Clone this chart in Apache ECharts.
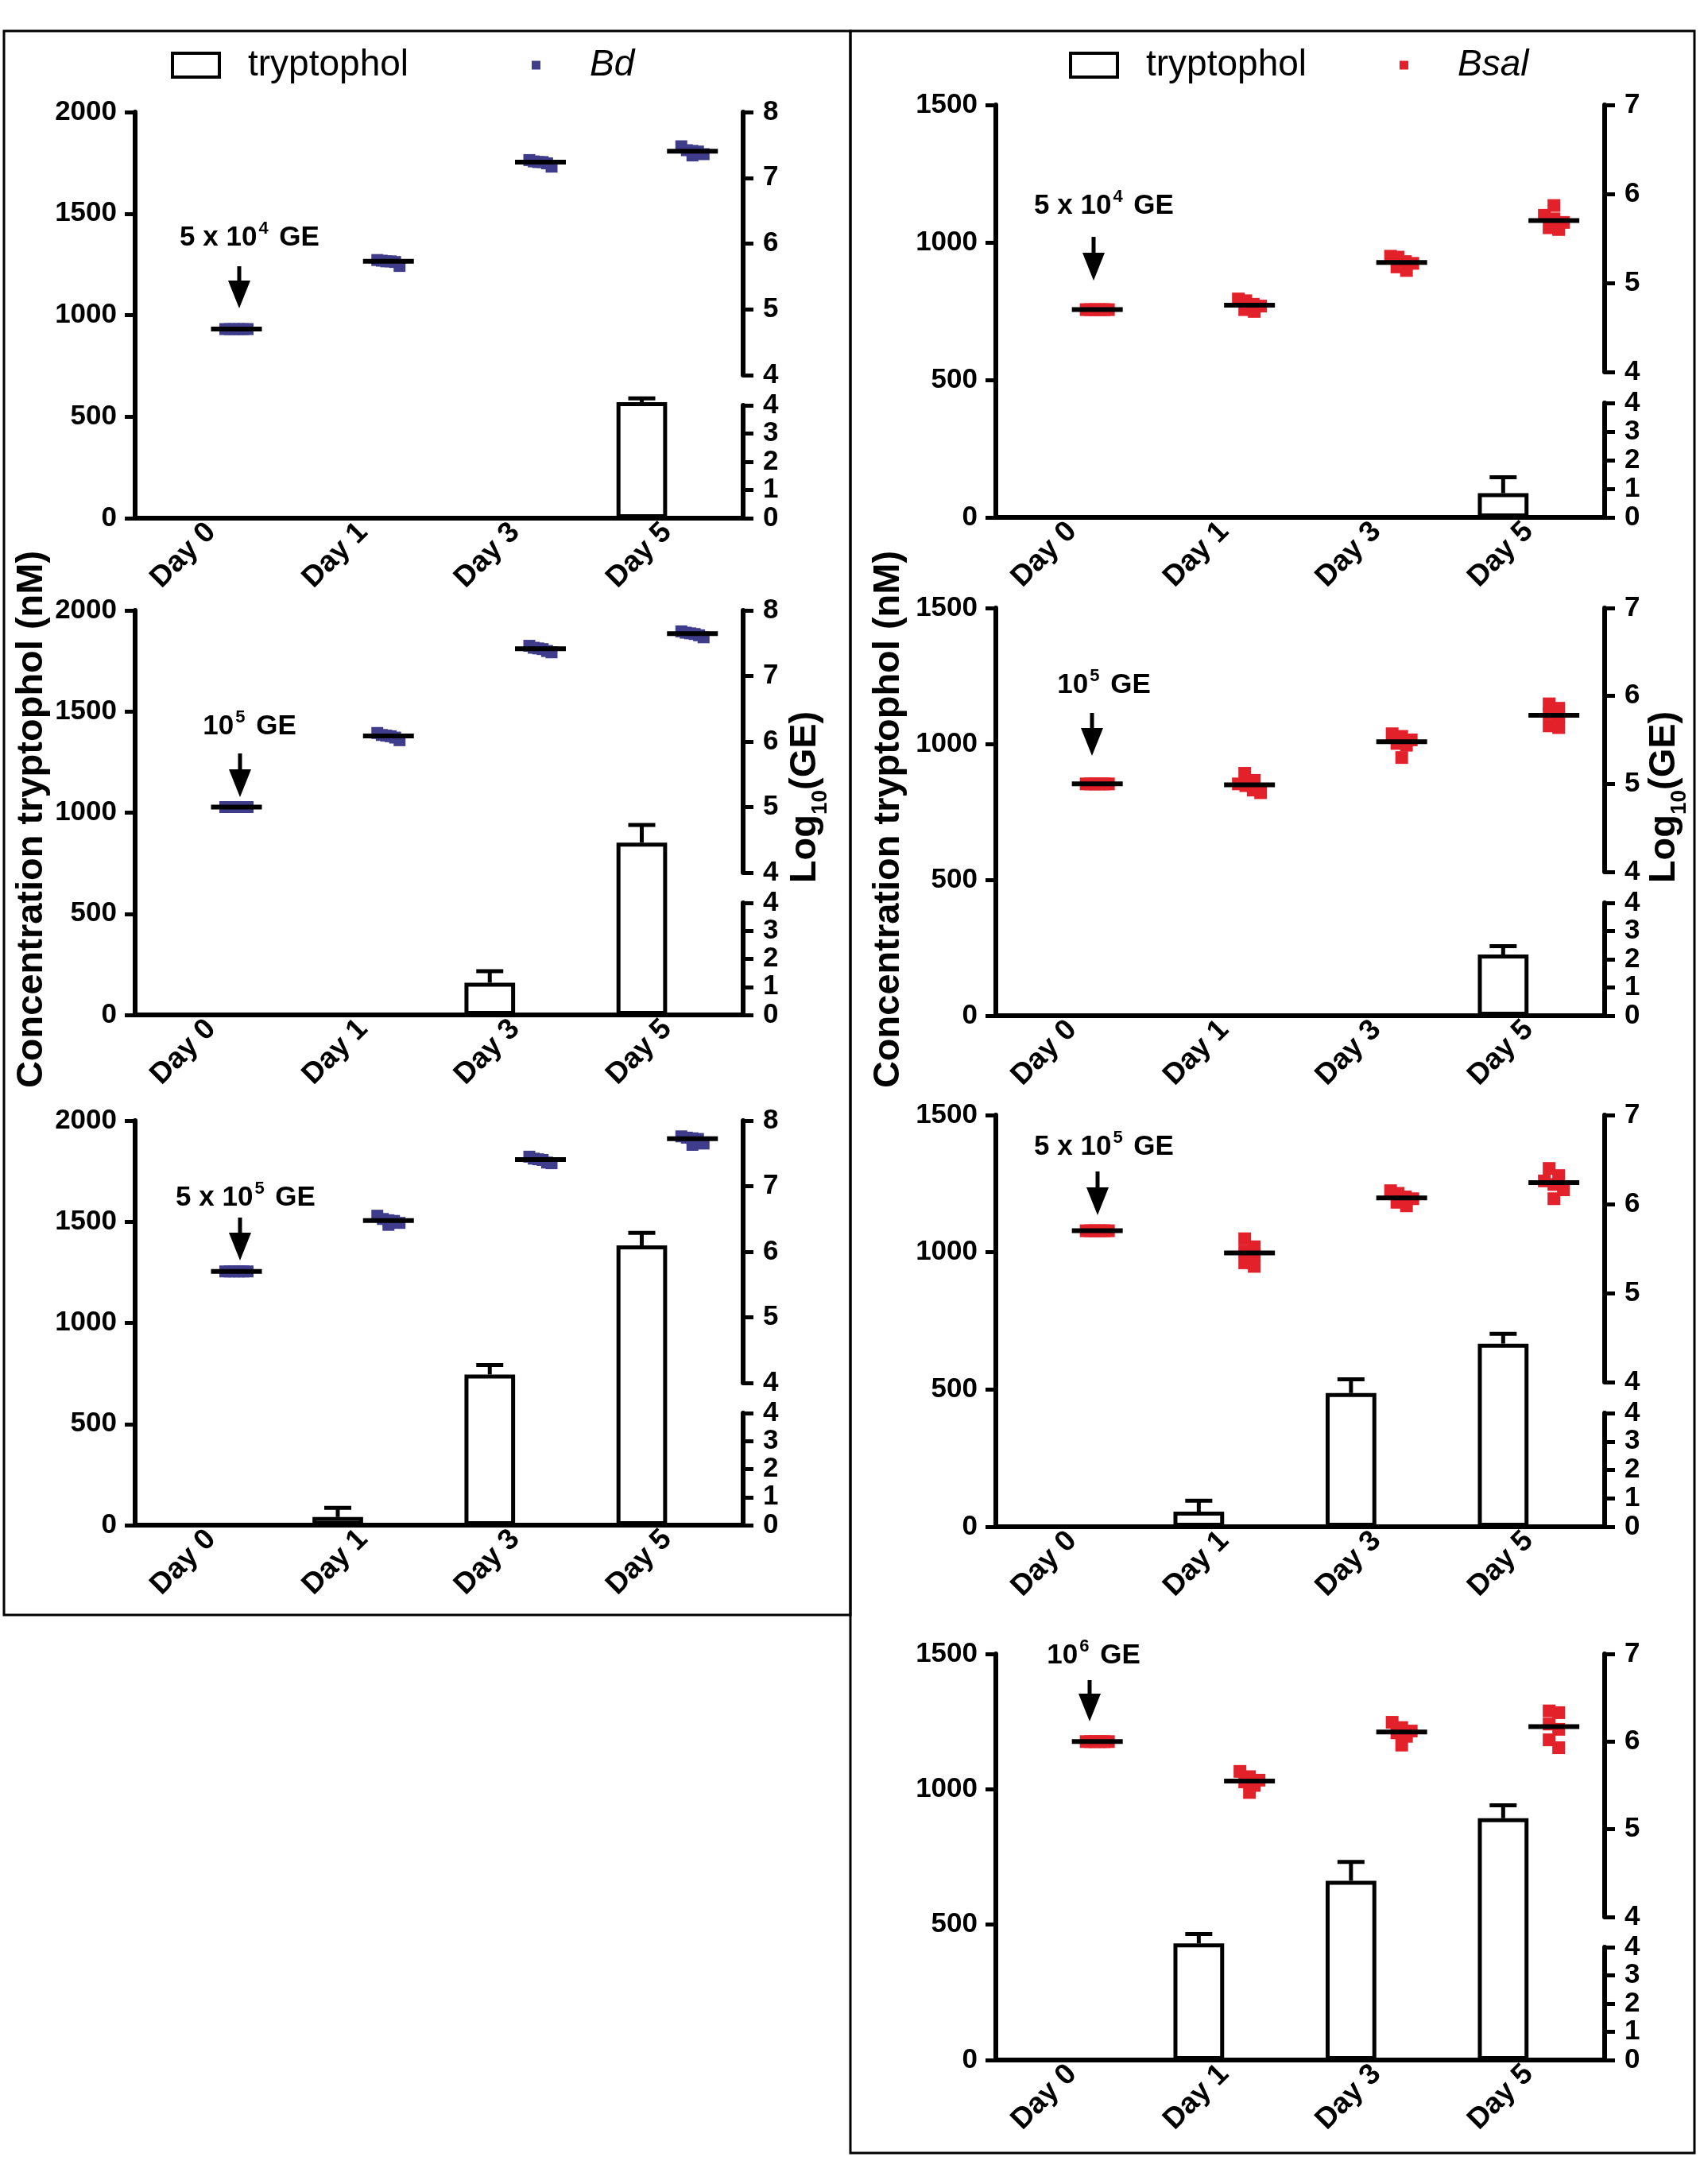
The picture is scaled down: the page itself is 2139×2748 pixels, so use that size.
<!DOCTYPE html>
<html>
<head>
<meta charset="utf-8">
<title>tryptophol - Bd / Bsal</title>
<script src="https://cdn.jsdelivr.net/npm/echarts@6.0.0/dist/echarts.min.js"></script>
<style>
html, body { margin: 0; padding: 0; background: #fff; }
#main { width: 2139px; height: 2748px; }
</style>
</head>
<body>
<div id="main"></div>
<script>

var days = ['Day 0', 'Day 1', 'Day 3', 'Day 5'];

// tryptophol (nM), mean and SD per day
var bd5e4Trp = [0, 0, 0, 571];
var bd5e4Sd = [0, 0, 0, 19];
var bd1e5Trp = [0, 0, 159, 852];
var bd1e5Sd = [0, 0, 57, 87];
var bd5e5Trp = [0, 40, 745, 1383];
var bd5e5Sd = [0, 45, 47, 62];
var bsal5e4Trp = [0, 0, 0, 88];
var bsal5e4Sd = [0, 0, 0, 58];
var bsal1e5Trp = [0, 0, 0, 225];
var bsal1e5Sd = [0, 0, 0, 31];
var bsal5e5Trp = [0, 55, 487, 667];
var bsal5e5Sd = [0, 40, 50, 36];
var bsal1e6Trp = [0, 431, 662, 893];
var bsal1e6Sd = [0, 34, 70, 48];

// log10(GE) per animal, one row per day
var bd5e4Ge = [
    [4.70, 4.70, 4.70, 4.70, 4.70, 4.70],
    [5.75, 5.74, 5.73, 5.73, 5.72, 5.66],
    [7.27, 7.25, 7.24, 7.24, 7.22, 7.17],
    [7.48, 7.42, 7.41, 7.40, 7.36, 7.34]
];
var bd1e5Ge = [
    [5.00, 5.00, 5.00, 5.00, 5.00, 5.00],
    [6.13, 6.10, 6.09, 6.08, 6.06, 6.02],
    [7.46, 7.43, 7.42, 7.41, 7.38, 7.36],
    [7.68, 7.66, 7.65, 7.64, 7.62, 7.59]
];
var bd5e5Ge = [
    [5.70, 5.70, 5.70, 5.70, 5.70, 5.70],
    [6.55, 6.50, 6.48, 6.47, 6.44, 6.41],
    [7.45, 7.42, 7.41, 7.40, 7.36, 7.35],
    [7.76, 7.74, 7.73, 7.72, 7.65, 7.63]
];
var bsal5e4Ge = [
    [4.70, 4.70, 4.70, 4.70, 4.70, 4.70],
    [4.82, 4.80, 4.76, 4.74, 4.70, 4.68],
    [5.30, 5.29, 5.24, 5.22, 5.18, 5.14],
    [5.87, 5.76, 5.72, 5.68, 5.62, 5.60]
];
var bsal1e5Ge = [
    [5.00, 5.00, 5.00, 5.00, 5.00, 5.00],
    [5.12, 5.04, 5.00, 4.98, 4.93, 4.90],
    [5.57, 5.54, 5.50, 5.46, 5.44, 5.30],
    [5.91, 5.86, 5.80, 5.76, 5.66, 5.64]
];
var bsal5e5Ge = [
    [5.70, 5.70, 5.70, 5.70, 5.70, 5.70],
    [5.61, 5.52, 5.47, 5.43, 5.34, 5.30],
    [6.15, 6.12, 6.08, 6.06, 6.02, 5.98],
    [6.40, 6.32, 6.26, 6.22, 6.16, 6.06]
];
var bsal1e6Ge = [
    [6.00, 6.00, 6.00, 6.00, 6.00, 6.00],
    [5.66, 5.60, 5.56, 5.54, 5.50, 5.42],
    [6.22, 6.16, 6.12, 6.10, 6.06, 5.96],
    [6.35, 6.33, 6.20, 6.14, 6.02, 5.93]
];

var font = "'Liberation Sans', Arial, sans-serif";
var bdColor = '#403c8c';
var bsalColor = '#e3212a';

var cols = [
    {left: 170, right: 935, kind: 'Bd', color: bdColor, dot: 15, trpMax: 2000, geMax: 8},
    {left: 1253, right: 2019, kind: 'Bsal', color: bsalColor, dot: 16, trpMax: 1500, geMax: 7}
];

var panels = [
    {col: 0, trp: bd5e4Trp, sd: bd5e4Sd, ge: bd5e4Ge, dose: '{a|5 x 10}{s|4}{a| GE}', top: 141, bottom: 652, text: [314, 297], arrow: [301, 335, 388]},
    {col: 0, trp: bd1e5Trp, sd: bd1e5Sd, ge: bd1e5Ge, dose: '{a|10}{s|5}{a| GE}', top: 768, bottom: 1277, text: [314, 912], arrow: [302, 948, 1003]},
    {col: 0, trp: bd5e5Trp, sd: bd5e5Sd, ge: bd5e5Ge, dose: '{a|5 x 10}{s|5}{a| GE}', top: 1410, bottom: 1919, text: [309, 1505], arrow: [302, 1532, 1586]},
    {col: 1, trp: bsal5e4Trp, sd: bsal5e4Sd, ge: bsal5e4Ge, dose: '{a|5 x 10}{s|4}{a| GE}', top: 132, bottom: 651, text: [1389, 257], arrow: [1376, 298, 353]},
    {col: 1, trp: bsal1e5Trp, sd: bsal1e5Sd, ge: bsal1e5Ge, dose: '{a|10}{s|5}{a| GE}', top: 765, bottom: 1278, text: [1389, 860], arrow: [1374, 897, 951]},
    {col: 1, trp: bsal5e5Trp, sd: bsal5e5Sd, ge: bsal5e5Ge, dose: '{a|5 x 10}{s|5}{a| GE}', top: 1403, bottom: 1921, text: [1389, 1441], arrow: [1381, 1474, 1529]},
    {col: 1, trp: bsal1e6Trp, sd: bsal1e6Sd, ge: bsal1e6Ge, dose: '{a|10}{s|6}{a| GE}', top: 2081, bottom: 2592, text: [1376, 2081], arrow: [1371, 2114, 2166]}
];

function median(vals) {
    var s = vals.slice().sort(function (a, b) { return a - b; });
    var m = Math.floor(s.length / 2);
    return s.length % 2 ? s[m] : (s[m - 1] + s[m]) / 2;
}

// spread points that sit at about the same height (like a dot plot)
function swarm(vals, pxPerUnit, size) {
    var order = vals.map(function (v, i) { return i; })
        .sort(function (a, b) { return vals[b] - vals[a]; });
    var rows = [];
    order.forEach(function (i) {
        var row = rows[rows.length - 1];
        if (row && (vals[row[0]] - vals[i]) * pxPerUnit < size * 0.7) row.push(i);
        else rows.push([i]);
    });
    var off = [];
    rows.forEach(function (row) {
        var step = row.length > 1 ? Math.min(size * 0.75, 28 / (row.length - 1)) : 0;
        row.forEach(function (i, k) { off[i] = (k - (row.length - 1) / 2) * step; });
    });
    return off;
}

function dotRenderer(ge, color, size) {
    return function (params, api) {
        var d = api.value(0), v = api.value(1), k = api.value(2);
        var band = api.size([1, 0])[0];
        var unit = api.size([0, 1])[1];
        var off = swarm(ge[d], unit, size);
        var p = api.coord([d, v]);
        var cx = p[0] + band / 6 + off[k];
        return {
            type: 'rect',
            shape: {x: cx - size / 2, y: p[1] - size / 2, width: size, height: size},
            style: {fill: color}
        };
    };
}

function medianRenderer(params, api) {
    var band = api.size([1, 0])[0];
    var p = api.coord([api.value(0), api.value(1)]);
    var cx = p[0] + band / 6;
    return {
        type: 'line',
        shape: {x1: cx - 32, y1: p[1], x2: cx + 32, y2: p[1]},
        style: {stroke: '#000', lineWidth: 6}
    };
}

function errRenderer(params, api) {
    var d = api.value(0), mean = api.value(1), sd = api.value(2);
    if (!sd) return;
    var band = api.size([1, 0])[0];
    var base = api.coord([d, mean]);
    var top = api.coord([d, mean + sd]);
    var x = base[0] - band / 6;
    var st = {stroke: '#000', lineWidth: 5};
    return {
        type: 'group',
        children: [
            {type: 'line', shape: {x1: x, y1: base[1], x2: x, y2: top[1]}, style: st},
            {type: 'line', shape: {x1: x - 17, y1: top[1], x2: x + 17, y2: top[1]}, style: st}
        ]
    };
}

var axisLine = {show: true, onZero: false, lineStyle: {color: '#000', width: 6}};
var axisTick = {show: true, length: 13, lineStyle: {color: '#000', width: 5}};
function label(margin) {
    return {
        color: '#000', fontSize: 35, fontWeight: 'bold', fontFamily: font, margin: margin,
        formatter: function (v) { return String(v); }
    };
}

var grids = [], xAxes = [], yAxes = [], series = [];
var graphics = [];

panels.forEach(function (p, i) {
    var c = cols[p.col];
    var h = p.bottom - p.top;
    var w = c.right - c.left;
    var upperH = Math.round(h * 0.648);
    var lowerH = Math.round(h * 0.277);
    var g = 3 * i;

    grids.push({left: c.left, top: p.top, width: w, height: h, outerBoundsMode: 'none'});
    grids.push({left: c.left, top: p.top, width: w, height: upperH, outerBoundsMode: 'none'});
    grids.push({left: c.left, top: p.bottom - lowerH, width: w, height: lowerH, outerBoundsMode: 'none'});

    xAxes.push({
        gridIndex: g, type: 'category', data: days,
        axisLine: axisLine,
        axisTick: {show: false},
        axisLabel: {color: '#000', fontSize: 37, fontWeight: 'bold', fontFamily: font, margin: 12, rotate: 45, interval: 0},
        splitLine: {show: false}
    });
    xAxes.push({gridIndex: g + 1, type: 'category', data: days, show: false});
    xAxes.push({gridIndex: g + 2, type: 'category', data: days, show: false});

    yAxes.push({
        gridIndex: g, type: 'value', min: 0, max: c.trpMax, interval: 500,
        axisLine: axisLine, axisTick: axisTick, axisLabel: label(23), splitLine: {show: false}
    });
    yAxes.push({
        gridIndex: g + 1, type: 'value', position: 'right', min: 4, max: c.geMax, interval: 1,
        axisLine: axisLine, axisTick: axisTick, axisLabel: label(25), splitLine: {show: false}
    });
    yAxes.push({
        gridIndex: g + 2, type: 'value', position: 'right', min: 0, max: 4, interval: 1,
        axisLine: axisLine, axisTick: axisTick, axisLabel: label(25), splitLine: {show: false}
    });

    series.push({
        type: 'bar', name: 'tryptophol', xAxisIndex: g, yAxisIndex: g,
        data: p.trp.map(function (v) { return v > 0 ? v : '-'; }),
        barWidth: '33.3%', barGap: '0%',
        itemStyle: {color: '#fff', borderColor: '#000', borderWidth: 5},
        silent: true
    });
    // empty slot so the bar sits on the left half of each day
    series.push({
        type: 'bar', name: 'slot', xAxisIndex: g, yAxisIndex: g,
        data: ['-', '-', '-', '-'], barWidth: '33.3%', barGap: '0%', silent: true
    });
    series.push({
        type: 'custom', name: 'tryptophol SD', xAxisIndex: g, yAxisIndex: g,
        data: p.trp.map(function (v, d) { return [d, v, p.sd[d]]; }),
        renderItem: errRenderer, z: 3, silent: true
    });

    var dots = [];
    p.ge.forEach(function (vals, d) {
        vals.forEach(function (v, k) { dots.push([d, v, k]); });
    });
    series.push({
        type: 'custom', name: c.kind, xAxisIndex: g + 1, yAxisIndex: g + 1,
        data: dots, renderItem: dotRenderer(p.ge, c.color, c.dot),
        itemStyle: {color: c.color}, z: 4, silent: true
    });
    series.push({
        type: 'custom', name: 'median', xAxisIndex: g + 1, yAxisIndex: g + 1,
        data: p.ge.map(function (vals, d) { return [d, median(vals)]; }),
        renderItem: medianRenderer, z: 5, silent: true
    });

    // inoculum label and arrow
    graphics.push({
        type: 'text', x: p.text[0], y: p.text[1], silent: true,
        style: {
            text: p.dose, align: 'center', verticalAlign: 'middle',
            rich: {
                a: {fontSize: 35, fontWeight: 'bold', fontFamily: font, fill: '#000', lineHeight: 40, verticalAlign: 'bottom'},
                s: {fontSize: 22, fontWeight: 'bold', fontFamily: font, fill: '#000', lineHeight: 22, verticalAlign: 'top', padding: [0, 4, 0, 2]}
            }
        }
    });
    var ax = p.arrow[0], at = p.arrow[1], tip = p.arrow[2];
    graphics.push({
        type: 'line', silent: true,
        shape: {x1: ax, y1: at, x2: ax, y2: tip - 30},
        style: {stroke: '#000', lineWidth: 5}
    });
    graphics.push({
        type: 'polygon', silent: true,
        shape: {points: [[ax - 14, tip - 35], [ax + 14, tip - 35], [ax, tip]]},
        style: {fill: '#000'}
    });
});

// frames round the two columns
graphics.push({type: 'rect', silent: true, shape: {x: 5, y: 39, width: 1065, height: 1993}, style: {fill: 'none', stroke: '#000', lineWidth: 3}});
graphics.push({type: 'rect', silent: true, shape: {x: 1070, y: 39, width: 1062, height: 2670}, style: {fill: 'none', stroke: '#000', lineWidth: 3}});

// axis titles
[40, 1118].forEach(function (x) {
    graphics.push({
        type: 'text', x: x, y: 1031, rotation: Math.PI / 2, silent: true,
        style: {
            text: 'Concentration tryptophol (nM)', align: 'center', verticalAlign: 'middle',
            fontSize: 47, fontWeight: 'bold', fontFamily: font, fill: '#000'
        }
    });
});
[1018, 2099].forEach(function (x) {
    graphics.push({
        type: 'text', x: x, y: 1003, rotation: Math.PI / 2, silent: true,
        style: {
            text: '{a|Log}{b|10}{a|(GE)}', align: 'center', verticalAlign: 'middle',
            rich: {
                a: {fontSize: 47, fontWeight: 'bold', fontFamily: font, fill: '#000', lineHeight: 56, verticalAlign: 'top'},
                b: {fontSize: 28, fontWeight: 'bold', fontFamily: font, fill: '#000', lineHeight: 30, verticalAlign: 'bottom'}
            }
        }
    });
});

function legendPart(name, left, item, icon, italic, pad) {
    return {
        data: [{name: name, icon: 'rect', itemStyle: icon}],
        left: left, top: 57, padding: 0, orient: 'horizontal',
        itemWidth: item[0], itemHeight: item[1], selectedMode: false,
        textStyle: {
            color: '#000', fontSize: 46, fontFamily: font, fontStyle: italic ? 'italic' : 'normal',
            lineHeight: 50, padding: [0, 0, 0, pad]
        }
    };
}

var boxIcon = {color: '#fff', borderColor: '#000', borderWidth: 4};

var chart = echarts.init(document.getElementById('main'));
chart.setOption({
    backgroundColor: '#fff',
    animation: false,
    legend: [
        legendPart('tryptophol', 215, [59, 30], boxIcon, false, 31),
        legendPart('Bd', 669, [11, 11], {color: bdColor}, true, 57),
        legendPart('tryptophol', 1345, [59, 30], boxIcon, false, 31),
        legendPart('Bsal', 1761, [11, 11], {color: bsalColor}, true, 57)
    ],
    grid: grids,
    xAxis: xAxes,
    yAxis: yAxes,
    series: series,
    graphic: graphics
});

</script>
</body>
</html>
